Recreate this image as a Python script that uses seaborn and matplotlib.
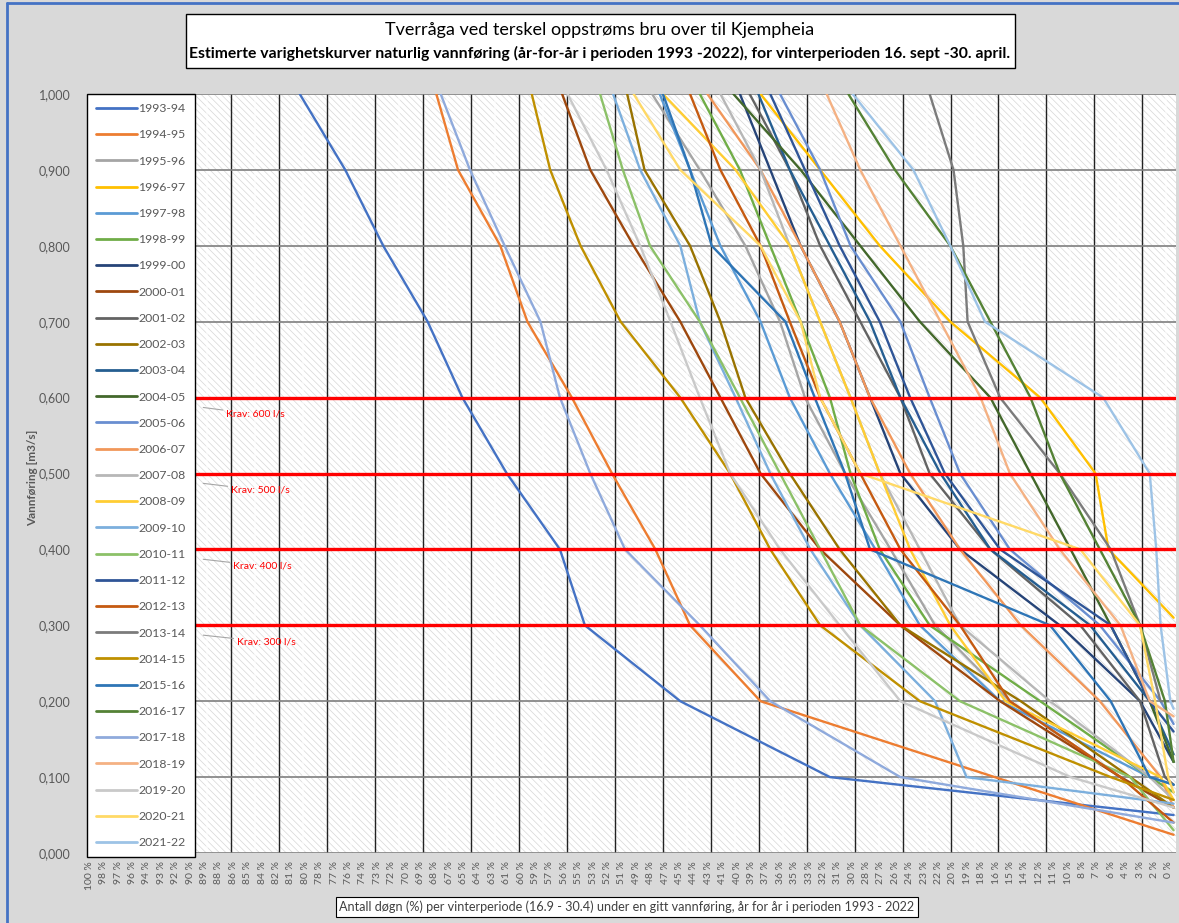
import numpy as np
import pandas as pd
import matplotlib
matplotlib.use("Agg")
import matplotlib.pyplot as plt
import seaborn as sns
from matplotlib.patches import Rectangle
from matplotlib.lines import Line2D

# flow levels (m3/s) at which the crossing percentages below were read
levels = [1.0, 0.9, 0.8, 0.7, 0.6, 0.5, 0.4, 0.3, 0.2, 0.1]

seasons = ["1993-94", "1994-95", "1995-96", "1996-97", "1997-98", "1998-99",
           "1999-00", "2000-01", "2001-02", "2002-03", "2003-04", "2004-05",
           "2005-06", "2006-07", "2007-08", "2008-09", "2009-10", "2010-11",
           "2011-12", "2012-13", "2013-14", "2014-15", "2015-16", "2016-17",
           "2017-18", "2018-19", "2019-20", "2020-21", "2021-22"]

season_colors = ["#4472C4", "#ED7D31", "#A5A5A5", "#FFC000", "#5B9BD5", "#70AD47",
                 "#264478", "#9E480E", "#636363", "#997300", "#255E91", "#43682B",
                 "#698ED0", "#F1975A", "#B7B7B7", "#FFCD33", "#7CAFDD", "#8CC168",
                 "#2F5597", "#C55A11", "#7B7B7B", "#BF9000", "#2E75B6", "#548235",
                 "#8FAADC", "#F4B183", "#C9C9C9", "#FFD966", "#9DC3E6"]

# % of days where each season crosses the levels
p1993_94 = [80.6, 76.4, 72.9, 68.8, 65.6, 61.5, 56.6, 54.3, 45.5, 31.7]
p1994_95 = [68.0, 66.0, 62.1, 59.6, 55.5, 51.8, 47.8, 44.6, 38.1, 16.5]
p1995_96 = [48.1, 43.7, 39.5, 36.3, 34.0, 30.3, 26.1, 22.0, 15.1, 4.9]
p1996_97 = [38.1, 32.6, 27.1, 20.6, 12.3, 7.2, 6.0]
p1997_98 = [47.4, 44.6, 41.8, 38.1, 35.4, 31.7, 27.5, 23.4, 16.0, 2.2]
p1998_99 = [43.7, 40.0, 37.2, 34.4, 31.7, 29.8, 27.1, 22.5, 12.3, 2.2]
p1999_00 = [40.0, 37.2, 34.4, 30.8, 28.0, 25.2, 19.7, 10.5, 3.1]
p2000_01 = [56.4, 53.8, 49.8, 45.5, 41.8, 38.1, 32.6, 25.2, 16.0, 4.9]
p2001_02 = [39.1, 35.4, 32.6, 28.9, 25.2, 22.5, 16.9, 8.6, 3.1, 0.8]
p2002_03 = [50.4, 48.8, 44.6, 41.8, 39.5, 35.4, 30.8, 25.2, 14.1, 4.0]
p2003_04 = [38.3, 35.4, 31.7, 28.0, 25.2, 21.5, 16.9, 7.7, 2.2]
p2004_05 = [40.6, 34.4, 28.9, 23.4, 16.9, 13.2, 9.5, 5.8, 2.2]
p2005_06 = [36.3, 32.6, 29.8, 25.2, 22.5, 19.7, 15.1, 6.8, 1.2]
p2006_07 = [43.0, 38.1, 34.4, 30.8, 28.0, 24.3, 19.7, 14.1, 6.8, 1.2]
p2007_08 = [41.8, 38.1, 35.4, 32.6, 29.8, 27.1, 23.4, 19.7, 11.4, 2.2]
p2008_09 = [47.1, 40.4, 35.4, 32.6, 29.8, 27.1, 24.3, 20.6, 15.5, 1.2]
p2009_10 = [51.7, 49.2, 45.5, 43.7, 40.4, 37.2, 33.5, 28.9, 22.0, 19.1]
p2010_11 = [52.9, 50.8, 48.3, 43.7, 40.0, 36.3, 32.6, 28.9, 19.7, 4.0]
p2011_12 = [37.2, 34.0, 30.8, 27.1, 24.3, 21.1, 16.0, 5.8, 2.2]
p2012_13 = [44.6, 41.8, 38.1, 35.4, 32.6, 28.9, 25.2, 19.7, 15.1, 4.9]
p2013_14 = [22.5, 20.3, 19.4, 19.0, 16.0, 10.5, 5.8, 3.1, 1.2]
p2014_15 = [59.2, 57.5, 54.7, 51.0, 45.5, 40.9, 37.2, 32.6, 23.4, 5.8]
p2015_16 = [47.1, 44.6, 42.6, 35.8, 33.1, 30.3, 28.0, 11.4, 5.8, 2.2]
p2016_17 = [30.0, 25.7, 20.6, 16.9, 13.2, 10.5, 6.8, 3.1, 0.8]
p2017_18 = [67.6, 64.9, 61.7, 58.4, 56.6, 53.8, 50.6, 43.7, 37.2, 25.2]
p2018_19 = [32.0, 28.9, 25.2, 21.5, 17.8, 15.1, 10.5, 4.9, 2.2]
p2019_20 = [55.9, 52.3, 49.2, 46.4, 43.7, 40.9, 36.3, 30.8, 25.2, 9.5]
p2020_21 = [49.8, 45.5, 38.1, 34.4, 32.6, 28.9, 8.6, 3.1, 1.7, 0.5]
p2021_22 = [29.6, 24.0, 20.6, 17.4, 6.5, 2.2, 1.6, 1.2, 0.3]

# flow at 0 % (end of each curve)
end_flow = [0.05, 0.024, 0.06, 0.31, 0.09, 0.08, 0.12, 0.06, 0.09, 0.06,
            0.13, 0.12, 0.17, 0.06, 0.07, 0.07, 0.065, 0.03, 0.16, 0.04,
            0.2, 0.07, 0.09, 0.12, 0.04, 0.18, 0.06, 0.08, 0.19]

crossing_pct = [p1993_94, p1994_95, p1995_96, p1996_97, p1997_98, p1998_99,
                p1999_00, p2000_01, p2001_02, p2002_03, p2003_04, p2004_05,
                p2005_06, p2006_07, p2007_08, p2008_09, p2009_10, p2010_11,
                p2011_12, p2012_13, p2013_14, p2014_15, p2015_16, p2016_17,
                p2017_18, p2018_19, p2019_20, p2020_21, p2021_22]

pct_labels = ["100 %", "98 %", "97 %", "96 %", "94 %", "93 %", "92 %", "90 %", "89 %", "88 %",
              "86 %", "85 %", "84 %", "82 %", "81 %", "80 %", "78 %", "77 %", "76 %", "74 %",
              "73 %", "72 %", "70 %", "69 %", "68 %", "67 %", "65 %", "64 %", "63 %", "61 %",
              "60 %", "59 %", "57 %", "56 %", "55 %", "53 %", "52 %", "51 %", "49 %", "48 %",
              "47 %", "45 %", "44 %", "43 %", "41 %", "40 %", "39 %", "37 %", "36 %", "35 %",
              "33 %", "32 %", "31 %", "30 %", "28 %", "27 %", "26 %", "24 %", "23 %", "22 %",
              "20 %", "19 %", "18 %", "16 %", "15 %", "14 %", "12 %", "11 %", "10 %", "8 %",
              "7 %", "6 %", "4 %", "3 %", "2 %", "0 %"]

krav_flows = [0.6, 0.5, 0.4, 0.3]
krav_labels = ["Krav: 600 l/s", "Krav: 500 l/s", "Krav: 400 l/s", "Krav: 300 l/s"]

# ---- build long table for seaborn
rows = []
for season, pcts, end in zip(seasons, crossing_pct, end_flow):
    for p, lv in zip(pcts, levels):
        rows.append((season, p, lv))
    rows.append((season, 0.0, end))
df = pd.DataFrame(rows, columns=["season", "pct", "flow"])

sns.set_style("white")
plt.rcParams["font.family"] = ["Lato", "DejaVu Sans"]
plt.rcParams["hatch.color"] = "#d6d6d6"
plt.rcParams["hatch.linewidth"] = 0.5

fig = plt.figure(figsize=(11.79, 9.23), dpi=100, facecolor="#d9d9d9")
ax = fig.add_axes([87 / 1179, 70 / 923, 1089 / 1179, 759 / 923])

n_days = 226  # category steps between 100 % and 0 %
step = 100 / n_days
ax.set_xlim(100 + step / 2, -step / 2)
ax.set_ylim(0, 1.0)

# hatched plot area
ax.set_facecolor("white")
ax.add_patch(Rectangle((0, 0), 1, 1, transform=ax.transAxes, facecolor="white",
                       edgecolor="#d6d6d6", hatch="\\\\\\\\\\", lw=0, zorder=0))

# grid: faint minor, black major verticals, grey horizontals
for k in range(23):
    ax.axvline(100 - (10 * k + 4.5) * step, color="white", lw=1.6, alpha=0.6, zorder=0.5)
    ax.axvline(100 - (10 * k - 0.5) * step, color="#222222", lw=1.0, zorder=1)
for yv in np.arange(0, 1.01, 0.1):
    ax.axhline(yv, color="#7f7f7f", lw=1.2, zorder=1)

sns.lineplot(data=df, x="pct", y="flow", hue="season", hue_order=seasons,
             palette=dict(zip(seasons, season_colors)), estimator=None, sort=True,
             lw=1.7, ax=ax, legend=False, zorder=3)

for yv in krav_flows:
    ax.axhline(yv, color="#ff0000", lw=2.4, zorder=4)

# Krav labels with grey leader lines
for yv, lab, dx in zip(krav_flows, krav_labels, [0, 0.45, 0.65, 1.0]):
    ax.annotate(lab, xy=(89.5, yv - 0.013), xytext=(87.4 - dx, yv - 0.022),
                color="#ff0000", fontsize=7.5, va="center", ha="left", zorder=5,
                arrowprops=dict(arrowstyle="-", color="#a6a6a6", lw=0.8,
                                shrinkA=0, shrinkB=0))

# ticks
tick_pos = [100 - 3 * i * step for i in range(len(pct_labels))]
ax.set_xticks(tick_pos)
ax.set_xticklabels(pct_labels, rotation=90, fontsize=7.5, color="#595959")
ax.set_yticks(np.arange(0, 1.01, 0.1))
ax.set_yticklabels([f"{v:.3f}".replace(".", ",") for v in np.arange(0, 1.01, 0.1)],
                   fontsize=9, color="#595959")
ax.tick_params(axis="both", length=0, pad=6)
ax.tick_params(axis="y", pad=12)
ax.set_xlabel("")
ax.set_ylabel("")
for sp in ax.spines.values():
    sp.set_visible(False)

# legend
handles = [Line2D([0], [0], color=c, lw=2) for c in season_colors]
leg = ax.legend(handles, seasons, loc="upper left", bbox_to_anchor=(0, 1),
                borderaxespad=0, frameon=True, fancybox=False, framealpha=1,
                edgecolor="black", fontsize=8.8, labelspacing=1.245,
                handlelength=3.3, handletextpad=0.15, borderpad=0.75)
leg.get_frame().set_linewidth(1.0)
leg.set_zorder(10)
for t in leg.get_texts():
    t.set_color("#595959")

# y label
fig.text(33 / 1179, 1 - 478 / 923, "Vannføring [m3/s]", rotation=90, ha="center",
         va="center", fontsize=8.5, fontweight="bold", color="#595959")

# title box
fig.patches.append(Rectangle((186 / 1179, 1 - 68 / 923), 829 / 1179, 54 / 923,
                             transform=fig.transFigure, facecolor="white",
                             edgecolor="black", lw=1.0))
fig.text(600 / 1179, 1 - 30 / 923, "Tverråga ved terskel oppstrøms bru over til Kjempheia",
         ha="center", va="center", fontsize=13, color="black")
fig.text(600 / 1179, 1 - 53 / 923,
         "Estimerte varighetskurver naturlig vannføring (år-for-år i perioden 1993 -2022), "
         "for vinterperioden 16. sept -30. april.",
         ha="center", va="center", fontsize=11.3, fontweight="bold", color="black")

# x label box
fig.text(627 / 1179, 1 - 907 / 923,
         "Antall døgn (%) per vinterperiode (16.9 - 30.4) under en gitt vannføring, "
         "år for år i perioden 1993 - 2022",
         ha="center", va="center", fontsize=9.1, color="#404040",
         bbox=dict(boxstyle="square,pad=0.3", facecolor="white", edgecolor="black", lw=0.8))

# blue outer border (left and top)
fig.add_artist(Line2D([7 / 1179, 7 / 1179], [0, 1 - 3 / 923], transform=fig.transFigure,
                      color="#4472C4", lw=2))
fig.add_artist(Line2D([7 / 1179, 1], [1 - 3 / 923, 1 - 3 / 923], transform=fig.transFigure,
                      color="#4472C4", lw=2))

fig.savefig("out.png", dpi=100, facecolor=fig.get_facecolor())
